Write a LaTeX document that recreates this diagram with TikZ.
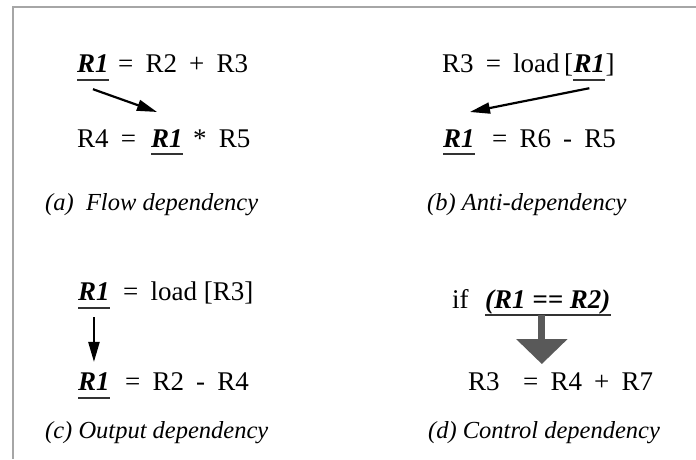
\documentclass[tikz,border=0pt]{standalone}
\usepackage{fontspec}
\setmainfont{Liberation Serif}
\usetikzlibrary{arrows.meta,calc}
\newcommand{\gp}{\hspace{0.45em}}

\begin{document}
\begin{tikzpicture}[x=1pt, y=-1pt,
  every node/.style={inner sep=0pt, anchor=base west, font=\fontsize{27}{32}\selectfont},
  reg/.style={font=\fontsize{27}{32}\selectfont\bfseries\itshape},
  caption/.style={font=\fontsize{24.5}{29}\selectfont\itshape},
  uline/.style={line width=2pt, black!80},
  dep/.style={-{Triangle[length=20pt,width=11pt]}, line width=2.2pt},
  ctrl/.style={-{Triangle[length=25pt,width=50pt]}, line width=7pt, black!65}]
	\useasboundingbox (0,0) rectangle (696,459);
	\draw[black!35, line width=1.5pt] (13,459) -- (13,7) -- (696,7);
	% (a) flow
	\node[reg] (fdef) at (77,72) {R1};
	\node (fdefrhs) at (118,72) {=\gp R2\gp +\gp R3};
	\node (fuselhs) at (77,147) {R4\gp =};
	\node[reg] (fuse) at (151,147) {R1};
	\node (fusetail) at (193,147) {*\gp R5};
	\node[caption] (fcap) at (45,210) {(a)~~Flow dependency};
	\draw[uline] ([yshift=-8pt]fdef.south west) -- ([yshift=-8pt]fdef.south east);
	\draw[uline] ([yshift=-7pt]fuse.south west) -- ([yshift=-7pt]fuse.south east);
	\draw[dep] ([yshift=-17pt]fdef.south) -- ([xshift=6pt,yshift=17pt]fuse.north west);
	% (b) anti
	\node (ausehead) at (442,72) {R3\gp =\gp load\,[};
	\node[reg] (ause) at (ausehead.base east) {R1};
	\node (ausetail) at (ause.base east) {]};
	\node[reg] (adef) at (443,147) {R1};
	\node (adefrhs) at (492,147) {=\gp R6\gp -\gp R5};
	\node[caption] (acap) at (427,210) {(b) Anti-dependency};
	\draw[uline] ([yshift=-8pt]ause.south west) -- ([yshift=-8pt]ause.south east);
	\draw[uline] ([yshift=-7pt]adef.south west) -- ([yshift=-7pt]adef.south east);
	\draw[dep] ([yshift=-16pt]ause.south) -- ([xshift=11pt,yshift=17pt]adef.north);
	% (c) output
	\node[reg] (odef) at (78,300) {R1};
	\node (odefrhs) at (123,300) {=\gp load [R3]};
	\node[reg] (oredef) at (78,390) {R1};
	\node (oredefrhs) at (125,390) {=\gp R2\gp -\gp R4};
	\node[caption] (ocap) at (45,438) {(c) Output dependency};
	\draw[uline] ([yshift=-8pt]odef.south west) -- ([yshift=-8pt]odef.south east);
	\draw[uline] ([yshift=-8pt]oredef.south west) -- ([yshift=-8pt]oredef.south east);
	\draw[dep] ([yshift=-17pt]odef.south) -- ([yshift=10pt]oredef.north);
	% (d) control
	\node (cif) at (452,308) {if};
	\node[reg] (cond) at (485,308) {(R1 == R2)};
	\node (cstmt) at (468,390) {R3};
	\node (cstmtrhs) at (523,390) {=\gp R4\gp +\gp R7};
	\node[caption] (ccap) at (428,438) {(d) Control dependency};
	\draw[black!80, line width=1.5pt] ([yshift=-7pt]cond.base west) -- ([yshift=-7pt]cond.base east);
	\draw[ctrl] ($(cond.base)+(-6,7)$) -- ($(cond.base |- cstmtrhs.north)+(-6,-8)$);
\end{tikzpicture}
\end{document}
